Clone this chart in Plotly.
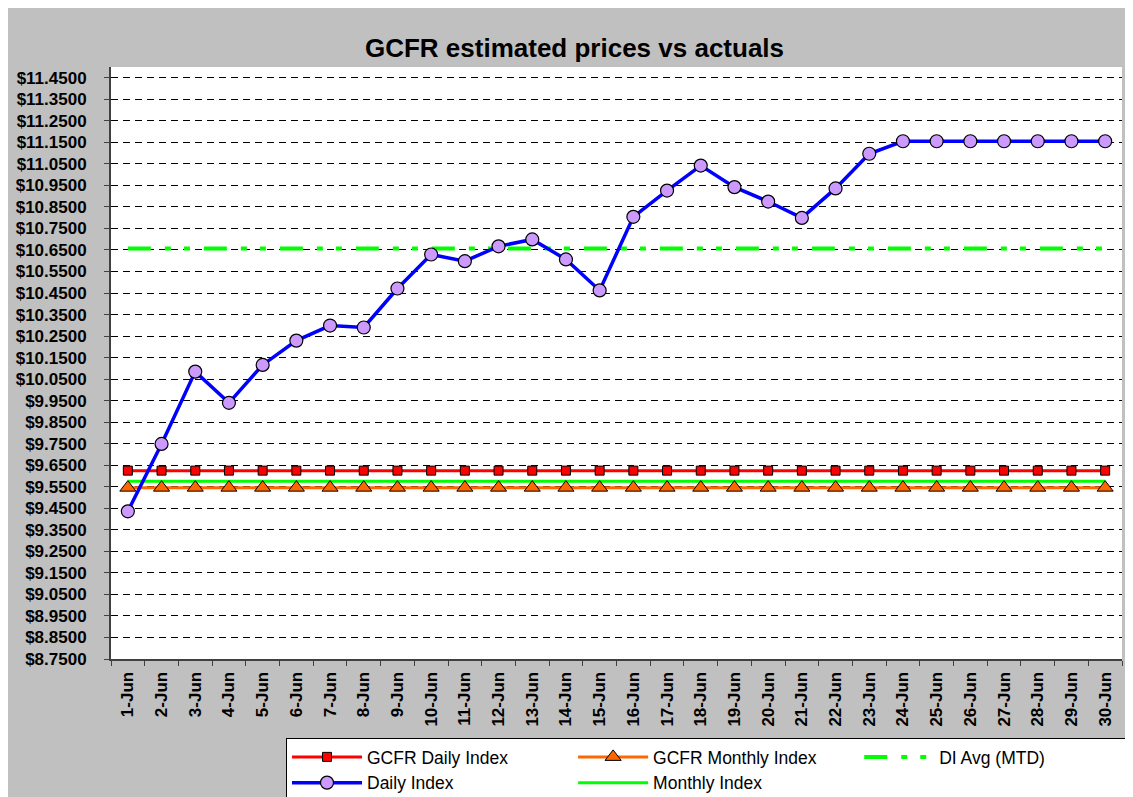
import plotly.graph_objects as go

days = [f"{d}-Jun" for d in range(1, 31)]
daily_index = [9.436, 9.749, 10.085, 9.940, 10.116, 10.229, 10.299, 10.290, 10.471, 10.629,
               10.598, 10.667, 10.699, 10.606, 10.462, 10.804, 10.926, 11.042, 10.942, 10.875,
               10.799, 10.936, 11.097, 11.155, 11.155, 11.155, 11.155, 11.155, 11.155, 11.155]
gcfr_daily = [9.625] * 30
gcfr_monthly = [9.546] * 30
monthly_index = [9.576] * 30
di_avg = [10.657] * 30

FONT = "Liberation Sans, Arial"

fig = go.Figure()
fig.add_trace(go.Scatter(x=days, y=monthly_index, name="Monthly Index", mode="lines",
                         legendrank=5,
                         line=dict(color="#00FF00", width=3)))
fig.add_trace(go.Scatter(x=days, y=di_avg, name="DI Avg (MTD)", mode="lines",
                         legendrank=3,
                         line=dict(color="#00FF00", width=4, dash="23px,14px,6px,13px,6px,14px")))
fig.add_trace(go.Scatter(x=days, y=gcfr_monthly, name="GCFR Monthly Index", mode="lines+markers",
                         legendrank=2,
                         line=dict(color="#FF6600", width=3),
                         marker=dict(symbol="triangle-up", size=14, color="#FF6600",
                                     line=dict(color="black", width=1))))
fig.add_trace(go.Scatter(x=days, y=gcfr_daily, name="GCFR Daily Index", mode="lines+markers",
                         legendrank=1,
                         line=dict(color="#FF0000", width=3),
                         marker=dict(symbol="square", size=9, color="#FF0000",
                                     line=dict(color="black", width=1))))
fig.add_trace(go.Scatter(x=days, y=daily_index, name="Daily Index", mode="lines+markers",
                         legendrank=4,
                         line=dict(color="#0000FF", width=3.5),
                         marker=dict(symbol="circle", size=13, color="#CC99FF",
                                     line=dict(color="black", width=1.2))))

fig.update_layout(
    width=1133, height=797,
    margin=dict(l=103, r=19, t=59, b=146, autoexpand=False),
    paper_bgcolor="#C0C0C0",
    plot_bgcolor="white",
    font=dict(family=FONT, color="black"),
    title=dict(text="<b>GCFR estimated prices vs actuals</b>", x=0.5, xanchor="center",
               y=1 - 40 / 797, yanchor="middle", font=dict(size=26, color="black")),
    showlegend=True,
    legend=dict(orientation="h", xref="container", x=278 / 1133, xanchor="left",
                yref="container", y=1 - 730 / 797, yanchor="top",
                bgcolor="white", bordercolor="black", borderwidth=1,
                font=dict(size=17.5, family=FONT),
                entrywidth=0.283, entrywidthmode="fraction",
                traceorder="normal", tracegroupgap=0, itemwidth=70),
)

fig.update_xaxes(type="category", categoryorder="array", categoryarray=days,
                 tickangle=-90, tickson="boundaries", ticks="outside", ticklen=5,
                 tickcolor="#404040", showline=True, linecolor="#404040", linewidth=2,
                 showgrid=False, tickfont=dict(size=17, family=FONT), ticklabelstandoff=4,
                 tickprefix="<b>", ticksuffix="</b>", range=[-0.5, 29.5])
fig.update_yaxes(range=[8.75, 11.5], tick0=8.75, dtick=0.1, tickformat="$.4f",
                 ticks="outside", ticklen=5, tickcolor="#404040",
                 showline=True, linecolor="#404040", linewidth=2,
                 showgrid=True, gridcolor="#000000", gridwidth=1, griddash="7px,5px",
                 zeroline=False, tickfont=dict(size=17, family=FONT), ticklabelstandoff=14,
                 tickprefix="<b>", ticksuffix="</b>")

fig.write_html("out.html")
